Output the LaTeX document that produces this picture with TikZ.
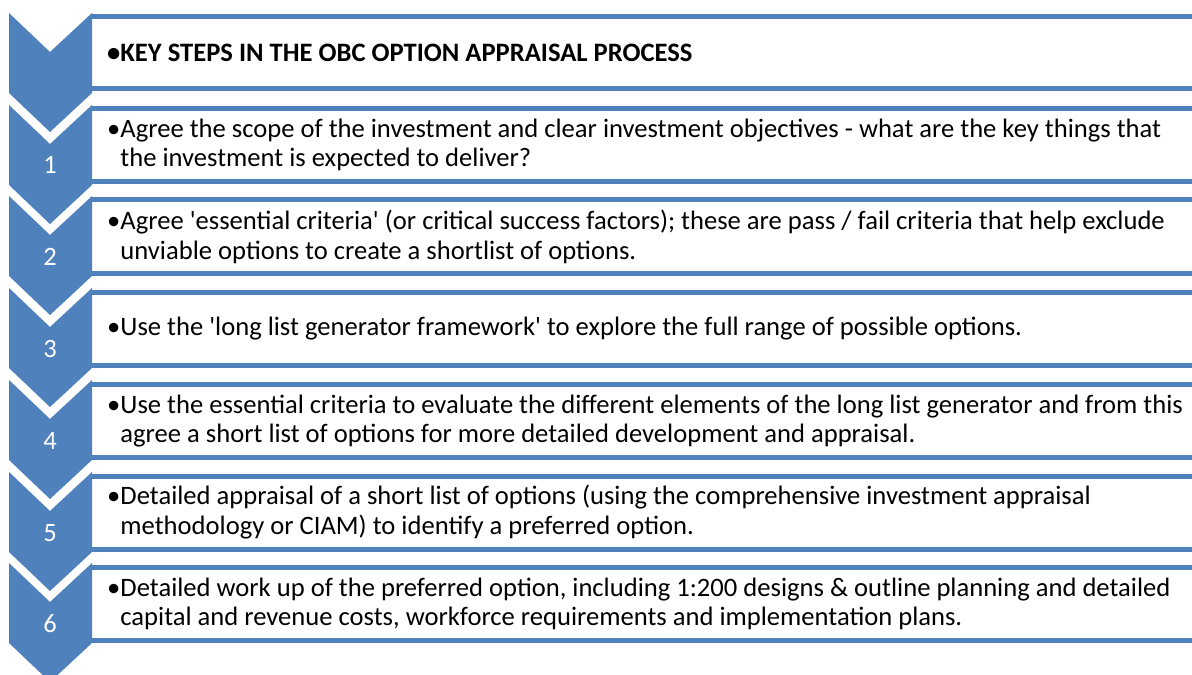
\documentclass[tikz,border=0pt]{standalone}
\usepackage{fontspec}
\setmainfont{Carlito}
\definecolor{chevblue}{HTML}{4F81BD}
\tikzset{
  chev/.style={fill=chevblue,draw=none},
  rowrule/.style={draw=chevblue,line width=5bp},
  num/.style={text=white,font=\fontsize{26.5bp}{30bp}\selectfont},
  steptext/.style={anchor=west,align=left,inner sep=0pt,font=\fontsize{26.6bp}{29.5bp}\selectfont}
}
\begin{document}
\begin{tikzpicture}[x=1bp,y=-1bp]
\useasboundingbox[fill=white] (0,0) rectangle (1192,675);
\fill[chev] (9,13) -- (50,52) -- (92,13) -- (92,93) -- (50,132) -- (9,93) -- cycle;
\fill[chev] (9,105) -- (50,144) -- (92,105) -- (92,185) -- (50,224) -- (9,185) -- cycle;
\fill[chev] (9,196) -- (50,235) -- (92,196) -- (92,276) -- (50,315) -- (9,276) -- cycle;
\fill[chev] (9,288) -- (50,327) -- (92,288) -- (92,368) -- (50,407) -- (9,368) -- cycle;
\fill[chev] (9,380) -- (50,419) -- (92,380) -- (92,460) -- (50,499) -- (9,460) -- cycle;
\fill[chev] (9,472) -- (50,511) -- (92,472) -- (92,552) -- (50,591) -- (9,552) -- cycle;
\fill[chev] (9,563) -- (50,602) -- (92,563) -- (92,643) -- (50,682) -- (9,643) -- cycle;
\draw[rowrule] (92,17) -- (1192,17) (92,89) -- (1192,89);
\draw[rowrule] (92,109) -- (1192,109) (92,182) -- (1192,182);
\draw[rowrule] (92,200) -- (1192,200) (92,273) -- (1192,273);
\draw[rowrule] (92,292) -- (1192,292) (92,365) -- (1192,365);
\draw[rowrule] (92,384) -- (1192,384) (92,457) -- (1192,457);
\draw[rowrule] (92,476) -- (1192,476) (92,549) -- (1192,549);
\draw[rowrule] (92,567) -- (1192,567) (92,640) -- (1192,640);
\node[num] (n1) at (50,165) {1};
\node[num] (n2) at (50,257) {2};
\node[num] (n3) at (50,349) {3};
\node[num] (n4) at (50,441) {4};
\node[num] (n5) at (50,533) {5};
\node[num] (n6) at (50,624) {6};
\node[steptext] (head) at (107,53) {\textbf{•KEY STEPS IN THE OBC OPTION APPRAISAL PROCESS}};
\node[steptext] (s1) at (107,145) {•Agree the scope of the investment and clear investment objectives - what are the key things that\\\phantom{•}the investment is expected to deliver?};
\node[steptext] (s2) at (107,237) {•Agree \textquotesingle essential criteria\textquotesingle{} (or critical success factors); these are pass / fail criteria that help exclude\\\phantom{•}unviable options to create a shortlist of options.};
\node[steptext] (s3) at (107,329) {•Use the \textquotesingle long list generator framework\textquotesingle{} to explore the full range of possible options.};
\node[steptext] (s4) at (107,421) {•Use the essential criteria to evaluate the different elements of the long list generator and from this\\\phantom{•}agree a short list of options for more detailed development and appraisal.};
\node[steptext] (s5) at (107,512) {•Detailed appraisal of a short list of options (using the comprehensive investment appraisal\\\phantom{•}methodology or CIAM) to identify a preferred option.};
\node[steptext] (s6) at (107,604) {•Detailed work up of the preferred option, including 1:200 designs \& outline planning and detailed\\\phantom{•}capital and revenue costs, workforce requirements and implementation plans.};
\end{tikzpicture}
\end{document}
